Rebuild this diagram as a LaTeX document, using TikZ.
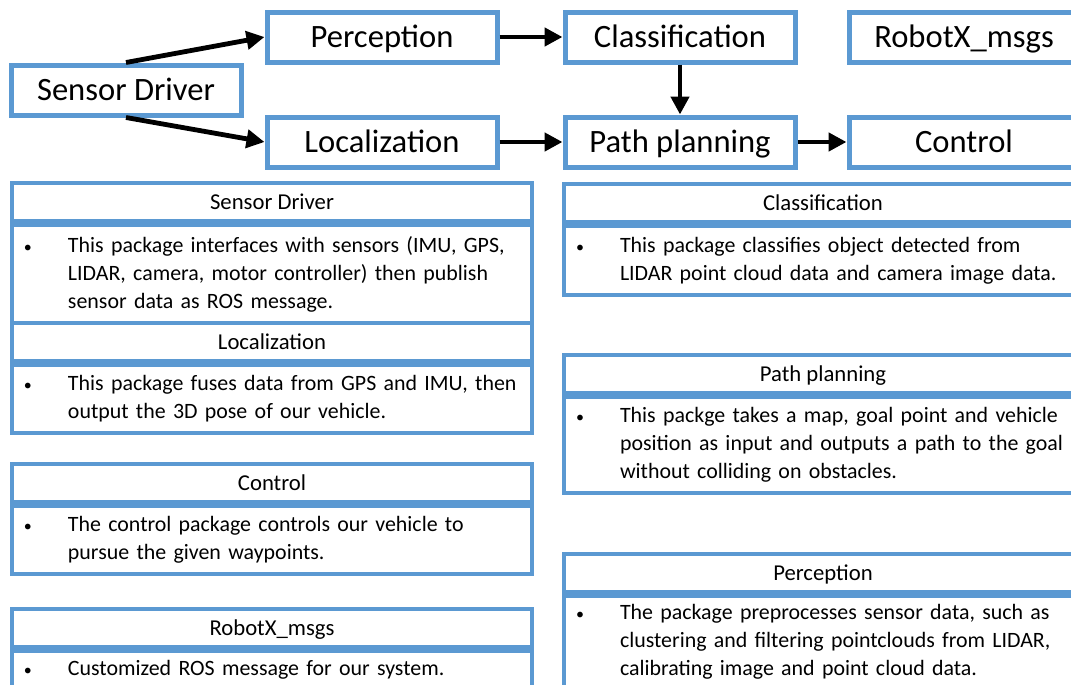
\documentclass[tikz,border=0pt]{standalone}
\usepackage{fontspec}
\setmainfont{Carlito}
\usetikzlibrary{arrows.meta, positioning}
\definecolor{boxblue}{RGB}{91,153,210}
\tikzset{
    pkg/.style={rectangle, draw=boxblue, line width=2.5pt, fill=white, minimum width=115pt, minimum height=25pt, inner sep=0pt, text height=10.5pt, text depth=-1pt, align=center, font=\fontsize{16.3}{19}\selectfont},
    desctitle/.style={rectangle, draw=boxblue, line width=2pt, fill=white, minimum height=19pt, inner sep=0pt, text height=7.3pt, text depth=0pt, align=center, anchor=north west, font=\fontsize{11.35}{14}\selectfont},
    descbody/.style={rectangle, draw=boxblue, line width=2pt, fill=white, inner xsep=6pt, inner ysep=0pt, align=left, anchor=north, font=\fontsize{10.95}{14}\selectfont},
    leftcol/.style={minimum width=260pt},
    rightcol/.style={minimum width=259pt},
    arrow/.style={line width=2.4pt, -{Triangle[length=9pt, width=9pt]}}
}
\newcommand{\bul}[1]{\makebox[22pt][l]{\fontsize{8}{10}\selectfont\textbullet}\begin{tabular}[t]{@{}l@{}}#1\end{tabular}\par\vspace{3pt}}

\begin{document}
\begin{tikzpicture}[x=0.5pt, y=-0.5pt]
    \useasboundingbox (0,0) rectangle (1071,685);

    % Package graph
    \node[pkg] (sd) at (126,90) {Sensor Driver};
    \node[pkg] (perc) at (382,37) {Perception};
    \node[pkg] (loc) at (382,142) {Localization};
    \node[pkg] (class) at (680,37) {Classification};
    \node[pkg] (path) at (680,142) {Path planning};
    \node[pkg] (msgs) at (964,37) {RobotX\_msgs};
    \node[pkg] (ctrl) at (964,142) {Control};

    \draw[arrow] (sd.north) -- (perc.west);
    \draw[arrow] (sd.south) -- (loc.west);
    \draw[arrow] (perc) -- (class);
    \draw[arrow] (loc) -- (path);
    \draw[arrow] (class) -- (path);
    \draw[arrow] (path) -- (ctrl);

    % Left column descriptions
    \node[desctitle, leftcol] (sdtitle) at (10,181) {Sensor Driver};
    \node[descbody, text width=248pt, minimum height=49.5pt] (sdinfo) at (sdtitle.south)
        {\bul{This package interfaces with sensors (IMU, GPS,\\LIDAR, camera, motor controller) then publish\\sensor data as ROS message.}};

    \node[desctitle, leftcol] (loctitle) at (10,321) {Localization};
    \node[descbody, text width=248pt, minimum height=34pt] (locinfo) at (loctitle.south)
        {\bul{This package fuses data from GPS and IMU, then\\output the 3D pose of our vehicle.}};

    \node[desctitle, leftcol] (ctrltitle) at (10,462) {Control};
    \node[descbody, text width=248pt, minimum height=34pt] (ctrlinfo) at (ctrltitle.south)
        {\bul{The control package controls our vehicle to\\pursue the given waypoints.}};

    \node[desctitle, leftcol] (msgstitle) at (10,607) {RobotX\_msgs};
    \node[descbody, text width=248pt, minimum height=19pt] (msgsinfo) at (msgstitle.south)
        {\bul{Customized ROS message for our system.}};

    % Right column descriptions
    \node[desctitle, rightcol] (classtitle) at (562,182) {Classification};
    \node[descbody, text width=247pt, minimum height=34.5pt] (classinfo) at (classtitle.south)
        {\bul{This package classifies object detected from\\LIDAR point cloud data and camera image data.}};

    \node[desctitle, rightcol] (pathtitle) at (562,353) {Path planning};
    \node[descbody, text width=247pt, minimum height=48pt] (pathinfo) at (pathtitle.south)
        {\bul{This packge takes a map, goal point and vehicle\\position as input and outputs a path to the goal\\without colliding on obstacles.}};

    \node[desctitle, rightcol] (perctitle) at (562,552) {Perception};
    \node[descbody, text width=247pt, minimum height=46pt] (percinfo) at (perctitle.south)
        {\bul{The package preprocesses sensor data, such as\\clustering and filtering pointclouds from LIDAR,\\calibrating image and point cloud data.}};
\end{tikzpicture}
\end{document}
